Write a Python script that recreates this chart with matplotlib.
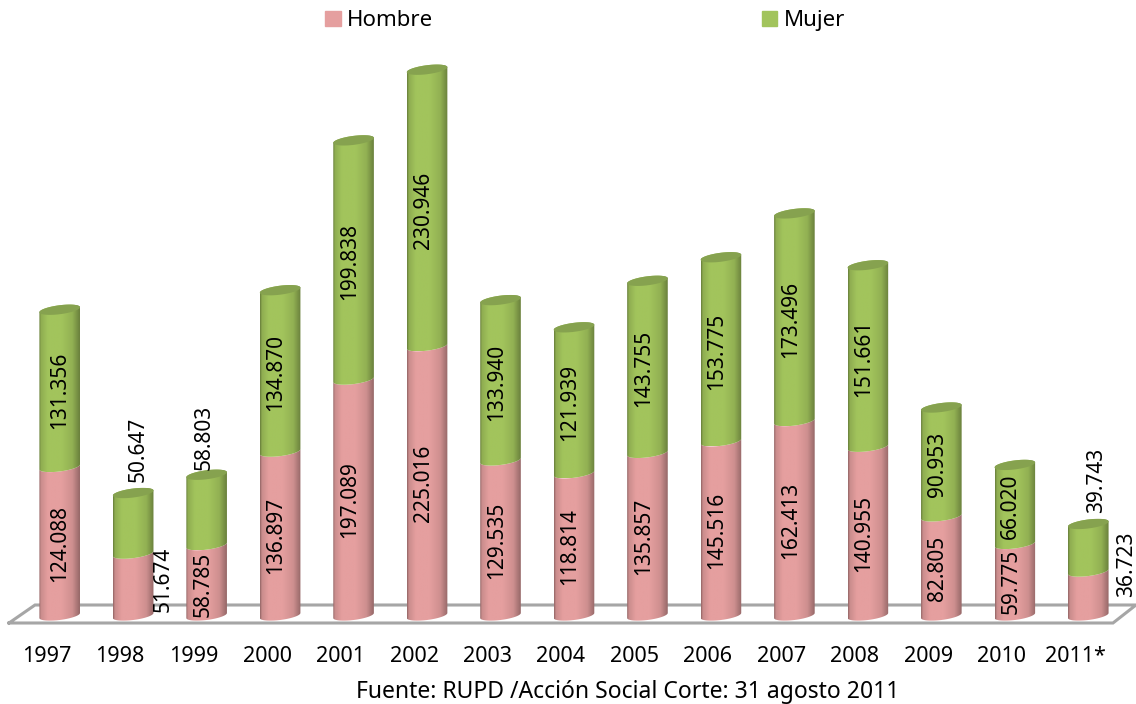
import numpy as np
import matplotlib
matplotlib.use("Agg")
import matplotlib.pyplot as plt
from matplotlib.colors import LinearSegmentedColormap
from matplotlib.patches import Patch, Polygon

years = ["1997", "1998", "1999", "2000", "2001", "2002", "2003", "2004", "2005",
         "2006", "2007", "2008", "2009", "2010", "2011*"]
hombre = [124.088, 51.674, 58.785, 136.897, 197.089, 225.016, 129.535, 118.814,
          135.857, 145.516, 162.413, 140.955, 82.805, 59.775, 36.723]
mujer = [131.356, 50.647, 58.803, 134.870, 199.838, 230.946, 133.940, 121.939,
         143.755, 153.775, 173.496, 151.661, 90.953, 66.020, 39.743]

# label nudges in pixels (dx, dy up), most labels sit a bit left of the bar centre
hombre_nudge = {0: (0, -2), 1: (30, 5), 2: (-3, -4), 14: (38, 29)}
mujer_nudge = {0: (0, -2), 1: (5, 74), 2: (-2, 73), 14: (8, 67)}

PINK = "#E59F9F"
GREEN = "#A2C45C"
FONT = "Noto Sans"

# scale of the picture
px_x = 73.47      # pixels per category
px_y = 1.197      # pixels per thousand
x0_px = 59.7
y0_px = 615.5

fig = plt.figure(figsize=(11.36, 7.04), dpi=100)
ax = fig.add_axes([0, 0, 1, 1])
ax.axis("off")

half_w = 20.3 / px_x
depth = 4.5 / px_y
skew = 2.5 / px_y


def curve(x, y, t):
    # tilted ellipse, rises to the right
    return x + half_w * np.cos(t), y + depth * np.sin(t) + skew * np.cos(t)


def shaded(color, poly):
    c = np.array(matplotlib.colors.to_rgb(color))
    cmap = LinearSegmentedColormap.from_list(
        "cyl", [c * 0.66, c * 0.88, c, c, c * 0.9, c * 0.66],
    )
    pts = np.array(poly)
    grad = np.interp(np.linspace(0, 1, 64), [0, 0.04, 0.3, 0.55, 0.82, 1],
                     [0, 0.2, 0.5, 0.6, 0.8, 1]).reshape(1, -1)
    im = ax.imshow(grad, cmap=cmap, aspect="auto", vmin=0, vmax=1, zorder=3,
                   extent=[pts[:, 0].min(), pts[:, 0].max(), pts[:, 1].min(), pts[:, 1].max()])
    im.set_clip_path(Polygon(poly, transform=ax.transData))


# floor of the 3d plot
fx = [(9 - x0_px) / px_x, (1113 - x0_px) / px_x, (1136 - x0_px) / px_x, (35 - x0_px) / px_x, (9 - x0_px) / px_x]
fy = [-7.5 / px_y, -7.5 / px_y, 10.5 / px_y, 10.5 / px_y, -7.5 / px_y]
ax.plot(fx, fy, color="#A6A6A6", lw=2.2, zorder=1, solid_joinstyle="miter")

low = np.linspace(np.pi, 2 * np.pi, 40)
high = np.linspace(0, np.pi, 40)
for i in range(len(years)):
    h = hombre[i]
    m = mujer[i]
    xa, ya = curve(i, 0, low)
    xb, yb = curve(i, h, low)
    xc, yc = curve(i, h + m, high)
    shaded(PINK, np.r_[np.c_[xa, ya], np.c_[xb, yb][::-1]])
    shaded(GREEN, np.r_[np.c_[xb, yb], np.c_[xc, yc]])
    t = np.linspace(0, 2 * np.pi, 80)
    xd, yd = curve(i, h + m, t)
    ax.fill(xd, yd, color="#86A24F", lw=0, zorder=4)

    dx, dy = hombre_nudge.get(i, (-4, -2))
    ax.text(i + dx / px_x, h / 2 + dy / px_y, f"{h:.3f}", rotation=90, ha="center", va="center",
            fontsize=15, family=FONT, color="black", zorder=6)
    dx, dy = mujer_nudge.get(i, (-4, -2))
    ax.text(i + dx / px_x, h + m / 2 + dy / px_y, f"{m:.3f}", rotation=90, ha="center", va="center",
            fontsize=15, family=FONT, color="black", zorder=6)
    ax.text(i - 13 / px_x, -40.5 / px_y, years[i], ha="center", va="center",
            fontsize=15.5, family=FONT, color="black")

ax.text((628 - x0_px) / px_x, -76 / px_y, "Fuente: RUPD /Acción Social Corte: 31 agosto 2011",
        ha="center", va="center", fontsize=16.5, family=FONT, color="black")

ax.set_xlim(-x0_px / px_x, (1136 - x0_px) / px_x)
ax.set_ylim((y0_px - 704) / px_y, y0_px / px_y)

handles = [Patch(color=PINK, label="Hombre"), Patch(color=GREEN, label="Mujer")]
ax.legend(handles=handles, ncol=2, frameon=False, loc="upper left",
          bbox_to_anchor=(321 / 1136, 1 - 6 / 704), borderaxespad=0, borderpad=0.2,
          prop={"family": FONT, "size": 16}, handlelength=0.68, handleheight=0.68,
          handletextpad=0.3, columnspacing=14.8)

plt.savefig("out.png", dpi=100)
